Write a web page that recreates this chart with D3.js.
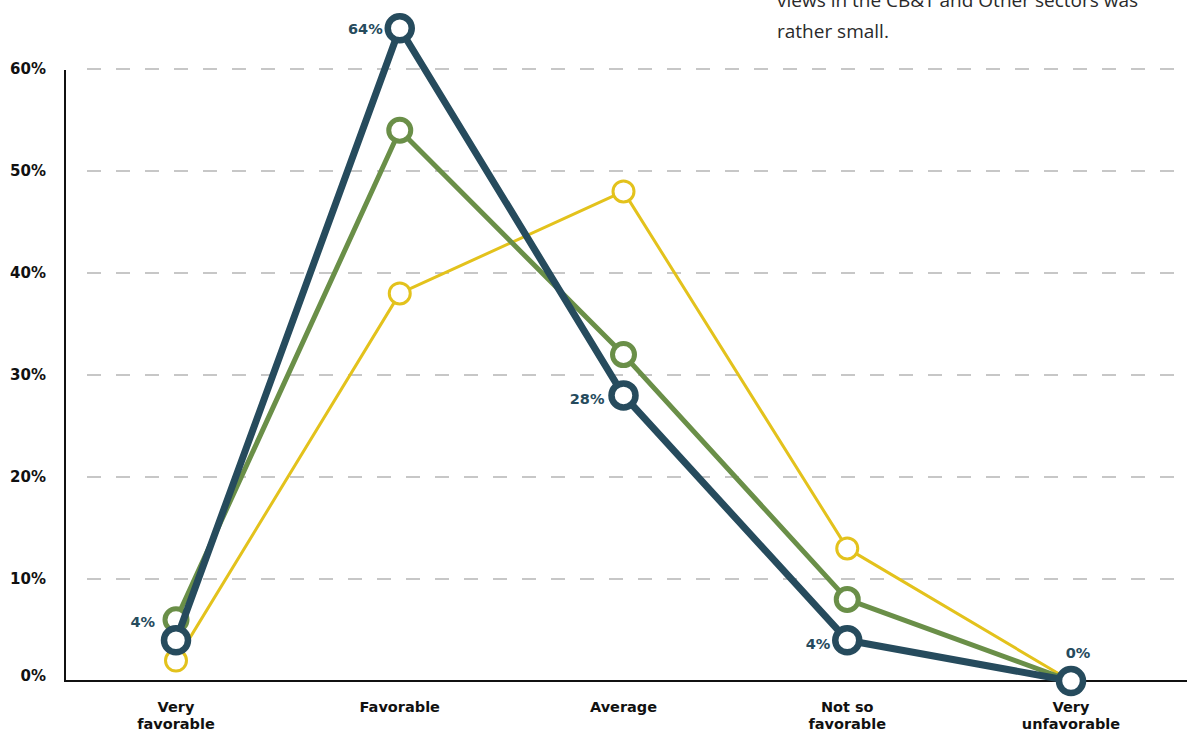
<!DOCTYPE html>
<html>
<head>
<meta charset="utf-8">
<script src="https://cdn.jsdelivr.net/npm/d3@7"></script>
<style>
  html, body { margin: 0; padding: 0; background: #ffffff; }
  svg { display: block; }
</style>
</head>
<body>
<script>
// Rating categories along the x axis (multi-line labels)
const categories = [
  ["Very", "favorable"],
  ["Favorable"],
  ["Average"],
  ["Not so", "favorable"],
  ["Very", "unfavorable"]
];
const yTicks = [0, 10, 20, 30, 40, 50, 60];

// Share of respondents (%) per rating, by sector
const seriesYellow = [2, 38, 48, 13, 0];
const seriesGreen  = [6, 54, 32, 8, 0];
const seriesDark   = [4, 64, 28, 4, 0];

// Value labels shown for the highlighted series
const darkLabels = ["4%", "64%", "28%", "4%", "0%"];

const noteLines = [
  "views in the CB&T and Other sectors was",
  "rather small."
];

const W = 1187, H = 731;
const svg = d3.select("body").append("svg").attr("width", W).attr("height", H);

const x = d3.scalePoint().domain(d3.range(categories.length)).range([176, 1071]);
const y = d3.scaleLinear().domain([0, 60]).range([681, 69]);

const boldFam = "'DejaVu Sans', sans-serif";
const textFam = "'Open Sans', sans-serif";

// Note text at the top right
svg.append("g").selectAll("text").data(noteLines).join("text")
  .attr("x", 777)
  .attr("y", (d, i) => 7 + i * 31)
  .attr("font-family", textFam)
  .attr("font-size", 19)
  .attr("fill", "#2a2a2a")
  .text(d => d);

// Dashed gridlines
svg.append("g").selectAll("line").data(yTicks.filter(t => t > 0)).join("line")
  .attr("x1", 87).attr("x2", 1180)
  .attr("y1", d => y(d)).attr("y2", d => y(d))
  .attr("stroke", "#b5b5b5")
  .attr("stroke-width", 1.5)
  .attr("stroke-dasharray", "14,15");

// Y tick labels (the zero label sits on the baseline)
svg.append("g").selectAll("text").data(yTicks).join("text")
  .attr("x", 46)
  .attr("y", d => y(d) + (d === 0 ? 0 : 5))
  .attr("text-anchor", "end")
  .attr("font-family", boldFam)
  .attr("font-weight", 700)
  .attr("font-size", 15)
  .attr("fill", "#111")
  .text(d => d + "%");

// Axes lines
svg.append("line").attr("x1", 65).attr("x2", 65).attr("y1", 70).attr("y2", 682)
  .attr("stroke", "#111").attr("stroke-width", 2);
svg.append("line").attr("x1", 64).attr("x2", W).attr("y1", 681).attr("y2", 681)
  .attr("stroke", "#111").attr("stroke-width", 2);

// Category labels
const catG = svg.append("g");
categories.forEach((lines, i) => {
  const t = catG.append("text")
    .attr("x", x(i))
    .attr("y", 712)
    .attr("text-anchor", "middle")
    .attr("font-family", boldFam)
    .attr("font-weight", 700)
    .attr("font-size", 14.5)
    .attr("fill", "#111");
  lines.forEach((ln, j) => {
    t.append("tspan").attr("x", x(i)).attr("dy", j === 0 ? 0 : 17).text(ln);
  });
});

// Line series
const line = d3.line().x((d, i) => x(i)).y(d => y(d));
const series = [
  { values: seriesYellow, color: "#e3c21c", width: 3, r: 10.5, cw: 3 },
  { values: seriesGreen,  color: "#6a8f48", width: 5, r: 11, cw: 5 },
  { values: seriesDark,   color: "#264b5d", width: 7, r: 12, cw: 6.5 }
];

series.forEach(s => {
  const g = svg.append("g");
  g.append("path")
    .attr("d", line(s.values))
    .attr("fill", "none")
    .attr("stroke", s.color)
    .attr("stroke-width", s.width)
    .attr("stroke-linejoin", "round");
  g.selectAll("circle").data(s.values).join("circle")
    .attr("cx", (d, i) => x(i))
    .attr("cy", d => y(d))
    .attr("r", s.r)
    .attr("fill", "#fff")
    .attr("stroke", s.color)
    .attr("stroke-width", s.cw);
});

// Value labels for the dark series
const labelOffsets = [
  { dx: -21, dy: -13, anchor: "end" },
  { dx: -17, dy: 6, anchor: "end" },
  { dx: -19, dy: 9, anchor: "end" },
  { dx: -17, dy: 9, anchor: "end" },
  { dx: 7, dy: -23, anchor: "middle" }
];
svg.append("g").selectAll("text").data(seriesDark).join("text")
  .attr("x", (d, i) => x(i) + labelOffsets[i].dx)
  .attr("y", (d, i) => y(d) + labelOffsets[i].dy)
  .attr("text-anchor", (d, i) => labelOffsets[i].anchor)
  .attr("font-family", boldFam)
  .attr("font-weight", 700)
  .attr("font-size", 14.5)
  .attr("fill", "#264b5d")
  .text((d, i) => darkLabels[i]);
</script>
</body>
</html>
